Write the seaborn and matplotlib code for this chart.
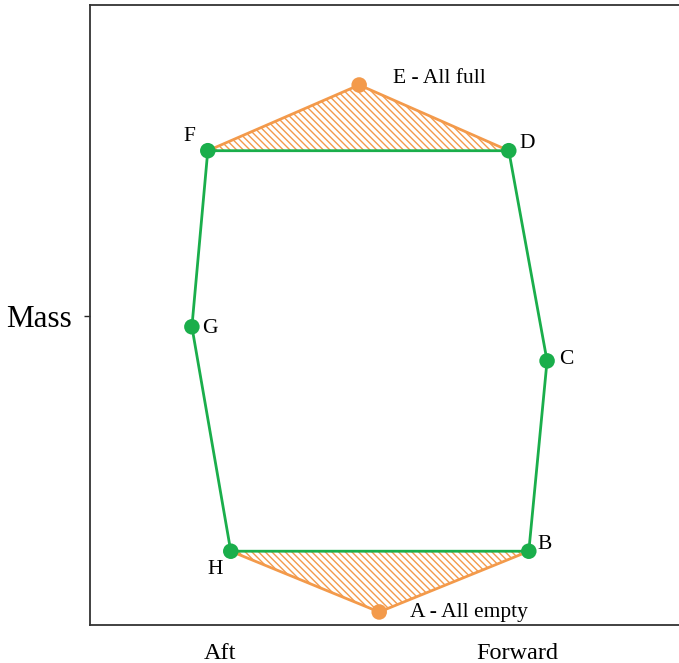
import matplotlib
matplotlib.use("Agg")
import matplotlib.pyplot as plt
import seaborn as sns
import pandas as pd

# Centre-of-gravity envelope points (arbitrary position / mass units)
point_names = ["A", "B", "C", "D", "E", "F", "G", "H"]
point_pos = [49.1, 74.5, 77.6, 71.1, 45.7, 20.0, 17.3, 23.9]
point_mass = [2.1, 11.9, 42.6, 76.5, 87.1, 76.5, 48.1, 11.9]
point_labels = ["A - All empty", "B", "C", "D", "E - All full", "F", "G", "H"]

# Operating envelope (green) and fuel-state excursions (orange)
envelope_path = ["D", "C", "B", "H", "G", "F", "D"]
full_path = ["F", "E", "D"]
empty_path = ["H", "A", "B"]

x_ticks = [22.1, 72.5]
x_tick_labels = ["Aft", "Forward"]
y_ticks = [49.9]
y_tick_labels = ["Mass"]

GREEN = "#1aae4b"
ORANGE = "#f39a4b"

sns.set_style("white")
plt.rcParams["font.family"] = ["Liberation Serif", "DejaVu Serif"]
plt.rcParams["hatch.linewidth"] = 1.0
plt.rcParams["text.color"] = "black"
plt.rcParams["xtick.labelcolor"] = "black"
plt.rcParams["ytick.labelcolor"] = "black"

pts = pd.DataFrame({"name": point_names, "pos": point_pos, "mass": point_mass,
                    "label": point_labels}).set_index("name")


def path_df(names):
    d = pts.loc[names].reset_index()
    d["order"] = range(len(d))
    return d


fig = plt.figure(figsize=(6.79, 6.63), dpi=100)
ax = fig.add_axes([90 / 679, 38 / 663, 1 - 90 / 679, 620 / 663])

# Hatched triangles for the full / empty states
for names in (full_path, empty_path):
    d = path_df(names)
    ax.fill(d["pos"], d["mass"], facecolor="none", edgecolor=ORANGE,
            hatch="\\\\\\\\\\", linewidth=0, zorder=1)

for names, color in ((full_path, ORANGE), (empty_path, ORANGE), (envelope_path, GREEN)):
    d = path_df(names)
    sns.lineplot(data=d, x="pos", y="mass", sort=False, estimator=None,
                 color=color, linewidth=2.0, ax=ax, zorder=2)

green_pts = pts.loc[["B", "C", "D", "F", "G", "H"]]
orange_pts = pts.loc[["A", "E"]]
sns.scatterplot(data=green_pts, x="pos", y="mass", color=GREEN, s=125,
                edgecolor="none", ax=ax, zorder=3)
sns.scatterplot(data=orange_pts, x="pos", y="mass", color=ORANGE, s=125,
                edgecolor="none", ax=ax, zorder=3)

# Label offsets in pixels
offsets = {"A": (31, -1, "left"), "B": (16, 7, "center"), "C": (19, 1, "center"),
           "D": (18, 7, "center"), "E": (34, 6, "left"), "F": (-18, 14, "center"),
           "G": (18, -2, "center"), "H": (-16, -18, "center")}
for name, row in pts.iterrows():
    dx, dy, ha = offsets[name]
    ax.annotate(row["label"], (row["pos"], row["mass"]), xytext=(dx, dy),
                textcoords="offset pixels", ha=ha, va="center", fontsize=15.5,
                color="black")

ax.set_xlim(0, 100)
ax.set_ylim(0, 100)
ax.set_xticks(x_ticks)
ax.set_xticklabels(x_tick_labels, fontsize=17.5)
ax.set_yticks(y_ticks)
ax.set_yticklabels(y_tick_labels, fontsize=22.4)
ax.tick_params(axis="x", length=0, pad=13)
ax.tick_params(axis="y", length=4, width=1, pad=9, left=True, direction="out")
ax.set_xlabel("")
ax.set_ylabel("")
for side in ("top", "bottom", "left"):
    ax.spines[side].set_color("#333333")
    ax.spines[side].set_linewidth(1.3)
ax.spines["right"].set_visible(False)

fig.savefig("out.png", dpi=100)
